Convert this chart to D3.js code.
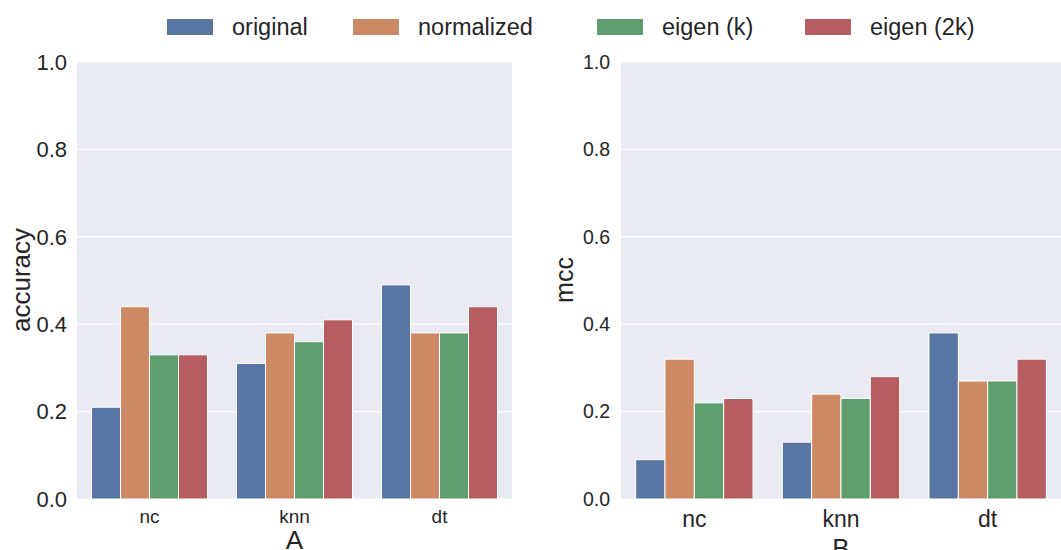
<!DOCTYPE html>
<html>
<head>
<meta charset="utf-8">
<script src="https://cdn.jsdelivr.net/npm/d3@7"></script>
<style>
  body { margin: 0; background: #fff; }
  text { font-family: Arial, "Liberation Sans", sans-serif; fill: #262626; }
</style>
</head>
<body>
<script>
var classifiers = ["nc", "knn", "dt"];
var methods = ["original", "normalized", "eigen (k)", "eigen (2k)"];
var colors = ["#5875a4", "#cc8963", "#5f9e6e", "#b55d60"];
var yTicks = [0.0, 0.2, 0.4, 0.6, 0.8, 1.0];

// rows follow classifiers, columns follow methods
var accuracy = [
    [0.21, 0.44, 0.33, 0.33],
    [0.31, 0.38, 0.36, 0.41],
    [0.49, 0.38, 0.38, 0.44]
];
var mcc = [
    [0.09, 0.32, 0.22, 0.23],
    [0.13, 0.24, 0.23, 0.28],
    [0.38, 0.27, 0.27, 0.32]
];

var width = 1061, height = 550;
var svg = d3.select("body").append("svg")
    .attr("width", width)
    .attr("height", height);

// draw one panel
function panel(opts) {
    var g = svg.append("g");
    var x = d3.scaleBand().domain(classifiers).range([opts.x0, opts.x1]);
    var y = d3.scaleLinear().domain([0, 1]).range([499, 62]);

    g.append("rect")
        .attr("x", opts.x0).attr("y", y(1))
        .attr("width", opts.x1 - opts.x0).attr("height", y(0) - y(1))
        .attr("fill", "#eaeaf2");

    g.selectAll(".grid").data(yTicks).enter().append("line")
        .attr("x1", opts.x0).attr("x2", opts.x1)
        .attr("y1", d => y(d)).attr("y2", d => y(d))
        .attr("stroke", "#fff").attr("stroke-width", 1.2);

    var inner = d3.scaleBand().domain(methods).range([0, x.bandwidth() * 0.8]);

    classifiers.forEach(function (c, i) {
        var gx = x(c) + x.bandwidth() * 0.1;
        g.selectAll(".b" + i).data(opts.values[i]).enter().append("rect")
            .attr("x", (d, j) => gx + inner(methods[j]))
            .attr("y", d => y(d))
            .attr("width", inner.bandwidth())
            .attr("height", d => y(0) - y(d))
            .attr("fill", (d, j) => colors[j])
            .attr("stroke", "#fff").attr("stroke-width", 1);
    });

    g.selectAll(".yt").data(yTicks).enter().append("text")
        .attr("x", opts.x0 - opts.tickGap).attr("y", d => y(d))
        .attr("dy", "0.35em").attr("text-anchor", "end")
        .style("font-size", opts.yFont + "px")
        .text(d => d.toFixed(1));

    g.selectAll(".xt").data(classifiers).enter().append("text")
        .attr("x", d => x(d) + x.bandwidth() / 2).attr("y", opts.xTickY)
        .attr("text-anchor", "middle")
        .style("font-size", opts.xFont + "px")
        .text(d => d);

    g.append("text")
        .attr("x", (opts.x0 + opts.x1) / 2).attr("y", opts.labelY)
        .attr("text-anchor", "middle")
        .style("font-size", "26px")
        .text(opts.xlabel);

    g.append("text")
        .attr("transform", "translate(" + opts.ylabelX + ",280) rotate(-90)")
        .attr("text-anchor", "middle")
        .style("font-size", opts.ylabelFont + "px")
        .text(opts.ylabel);
}

panel({ x0: 77, x1: 512, values: accuracy, yFont: 22, xFont: 19, tickGap: 10,
        xTickY: 523, xlabel: "A", ylabel: "accuracy", labelY: 549, ylabelX: 30, ylabelFont: 26 });
panel({ x0: 621, x1: 1061, values: mcc, yFont: 19.5, xFont: 23, tickGap: 11,
        xTickY: 527, xlabel: "B", ylabel: "mcc", labelY: 557, ylabelX: 573, ylabelFont: 25 });

// legend
var legendX = [167, 353, 597, 805];
var legend = svg.append("g");
methods.forEach(function (m, i) {
    legend.append("rect")
        .attr("x", legendX[i]).attr("y", 19)
        .attr("width", 46).attr("height", 16)
        .attr("fill", colors[i]);
    legend.append("text")
        .attr("x", legendX[i] + 65).attr("y", 27)
        .attr("dy", "0.35em")
        .style("font-size", "23.5px")
        .text(m);
});
</script>
</body>
</html>
